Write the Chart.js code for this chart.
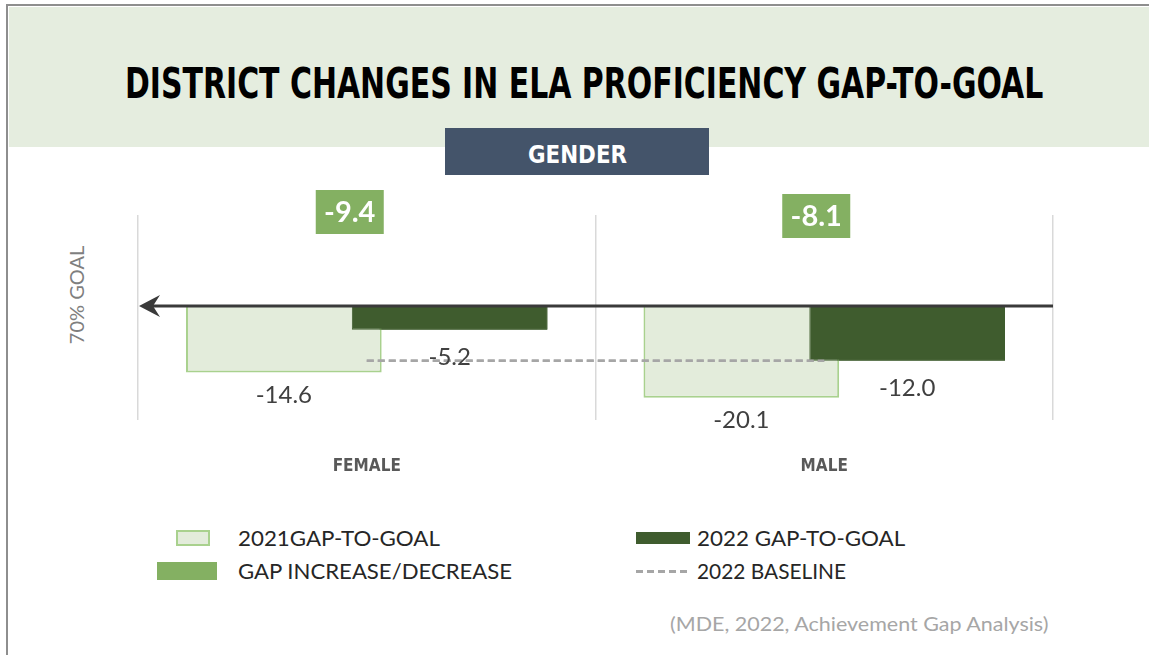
<!DOCTYPE html>
<html lang="en">
<head>
<meta charset="UTF-8">
<title>District Changes in ELA Proficiency Gap-to-Goal</title>
<script src="https://cdn.jsdelivr.net/npm/chart.js@4"></script>
<style>
*{box-sizing:border-box}
body{margin:0;width:1149px;height:655px;position:relative;overflow:hidden;background:#fff;font-family:Lato,"Noto Sans",sans-serif}
.frame{position:absolute;left:6px;top:4px;width:1143px;height:651px;border-top:2px solid #8e8e8e;border-left:2px solid #8e8e8e}
.band{position:absolute;left:9px;top:7px;width:1140px;height:140px;background:#e5eddf}
.tag{position:absolute;left:445px;top:128px;width:264px;height:47px;background:#44546a}
.fit{position:absolute;white-space:nowrap;line-height:1;transform-origin:left center}
.title{left:125px;top:59px;font:700 42px "DejaVu Sans Condensed","DejaVu Sans",sans-serif;color:#000}
.tagtext{left:528px;top:140px;font:700 25px "DejaVu Sans Condensed","DejaVu Sans",sans-serif;color:#fff}
.leg{font-size:21px;color:#262626}
.src{font-size:20px;color:#a6a6a6}
.ytitle{position:absolute;left:76px;top:295px;transform:translate(-50%,-50%) rotate(-90deg);font-size:20px;color:#7f7f7f;white-space:nowrap;line-height:1}
.mark{position:absolute}
#wrap{position:absolute;left:0;top:0;width:1149px;height:655px}
</style>
</head>
<body>
<div class="frame"></div>
<div class="band"></div>
<div class="fit title" data-w="918">DISTRICT CHANGES IN ELA PROFICIENCY GAP-TO-GOAL</div>
<div class="tag"></div>
<div class="fit tagtext" data-w="99">GENDER</div>
<div class="ytitle">70% GOAL</div>

<div class="mark" style="left:176px;top:530px;width:34px;height:16px;background:#e3ecdb;border:2px solid #a9d18e"></div>
<div class="fit leg" style="left:238px;top:527px" data-w="202">2021GAP-TO-GOAL</div>
<div class="mark" style="left:636px;top:532px;width:54px;height:12px;background:#3f5c2e"></div>
<div class="fit leg" style="left:697px;top:527px" data-w="208">2022 GAP-TO-GOAL</div>
<div class="mark" style="left:157px;top:562px;width:60px;height:18px;background:#84b062"></div>
<div class="fit leg" style="left:238px;top:560px" data-w="274">GAP INCREASE/DECREASE</div>
<div class="mark" style="left:636px;top:570px;width:54px;height:3px;background:repeating-linear-gradient(90deg,#a6a6a6 0 7px,transparent 7px 11px)"></div>
<div class="fit leg" style="left:697px;top:560px" data-w="149">2022 BASELINE</div>

<div class="fit src" style="left:670px;top:613px" data-w="378">(MDE, 2022, Achievement Gap Analysis)</div>

<div id="wrap"><canvas id="chart"></canvas></div>
<script>
const categories = ['FEMALE', 'MALE'];
const gap2021 = [-14.6, -20.1];
const gap2022 = [-5.2, -12.0];
const baseline2022 = [-12.0, -12.0];
const gapChange = [-9.4, -8.1];
const yMin = -25;
const yMax = 20;

document.querySelectorAll('.fit').forEach(el => {
  el.style.transform = 'scaleX(' + (+el.dataset.w / el.offsetWidth) + ')';
});

// draws the goal line with its arrow, the value labels and the change boxes
const overlay = {
  id: 'overlay',
  afterDatasetsDraw(chart) {
    const ctx = chart.ctx;
    const {left, right} = chart.chartArea;
    const xs = chart.scales.x, ys = chart.scales.y;

    // 2022 bars sit over the 2021 bars, the baseline over both
    chart.getDatasetMeta(1).data.forEach(b => b.draw(ctx));
    chart.getDatasetMeta(2).controller.draw();

    const y0 = ys.getPixelForValue(0);
    ctx.save();
    ctx.strokeStyle = '#3a3a3a';
    ctx.fillStyle = '#3a3a3a';
    ctx.lineWidth = 3;
    ctx.beginPath();
    ctx.moveTo(left + 10, y0);
    ctx.lineTo(right, y0);
    ctx.stroke();
    ctx.beginPath();
    ctx.moveTo(left + 1, y0);
    ctx.lineTo(left + 22, y0 - 11);
    ctx.lineTo(left + 15, y0);
    ctx.lineTo(left + 22, y0 + 11);
    ctx.closePath();
    ctx.fill();

    ctx.font = '24px Lato, "Noto Sans", sans-serif';
    ctx.fillStyle = '#404040';
    ctx.textAlign = 'center';
    ctx.textBaseline = 'middle';
    [[0, 23], [1, 27]].forEach(([di, off]) => {
      chart.getDatasetMeta(di).data.forEach((b, i) => {
        ctx.fillText(chart.data.datasets[di].data[i].toFixed(1), b.x, b.y + off);
      });
    });

    ctx.font = 'bold 29px Lato, "Noto Sans", sans-serif';
    gapChange.forEach((v, i) => {
      const cx = xs.getPixelForValue(i) - (i === 0 ? 17 : 8);
      const cy = i === 0 ? 212 : 216;
      ctx.fillStyle = '#84b062';
      ctx.fillRect(cx - 34, cy - 22, 68, 44);
      ctx.fillStyle = '#fff';
      ctx.fillText(v.toFixed(1), cx, cy + 1);
    });
    ctx.restore();
  }
};

new Chart(document.getElementById('chart'), {
  type: 'bar',
  data: {
    labels: categories,
    datasets: [
      {label: '2021GAP-TO-GOAL', data: gap2021, backgroundColor: '#e3ecdb', borderColor: '#a9d18e', borderWidth: 2},
      {label: '2022 GAP-TO-GOAL', data: gap2022, backgroundColor: '#3f5c2e', borderColor: '#3f5c2e', borderWidth: 1},
      {type: 'line', label: '2022 BASELINE', data: baseline2022, borderColor: '#a6a6a6', borderWidth: 2.5, borderDash: [7, 4], pointRadius: 0, fill: false, order: -1}
    ]
  },
  options: {
    responsive: true,
    maintainAspectRatio: false,
    animation: false,
    categoryPercentage: 0.725,
    barPercentage: 1.18,
    layout: {padding: {left: 138, right: 96, top: 215, bottom: 175}},
    plugins: {legend: {display: false}, tooltip: {enabled: false}},
    scales: {
      x: {
        offset: true,
        grid: {offset: true, color: '#d9d9d9', lineWidth: 1.5, drawTicks: false},
        border: {display: false},
        ticks: {color: '#595959', padding: 36, font: {family: '"DejaVu Sans Condensed", "DejaVu Sans", sans-serif', weight: 'bold', size: 17}},
        afterFit(s) { s.height = 60; }
      },
      y: {display: false, min: yMin, max: yMax}
    }
  },
  plugins: [overlay]
});
</script>
</body>
</html>
